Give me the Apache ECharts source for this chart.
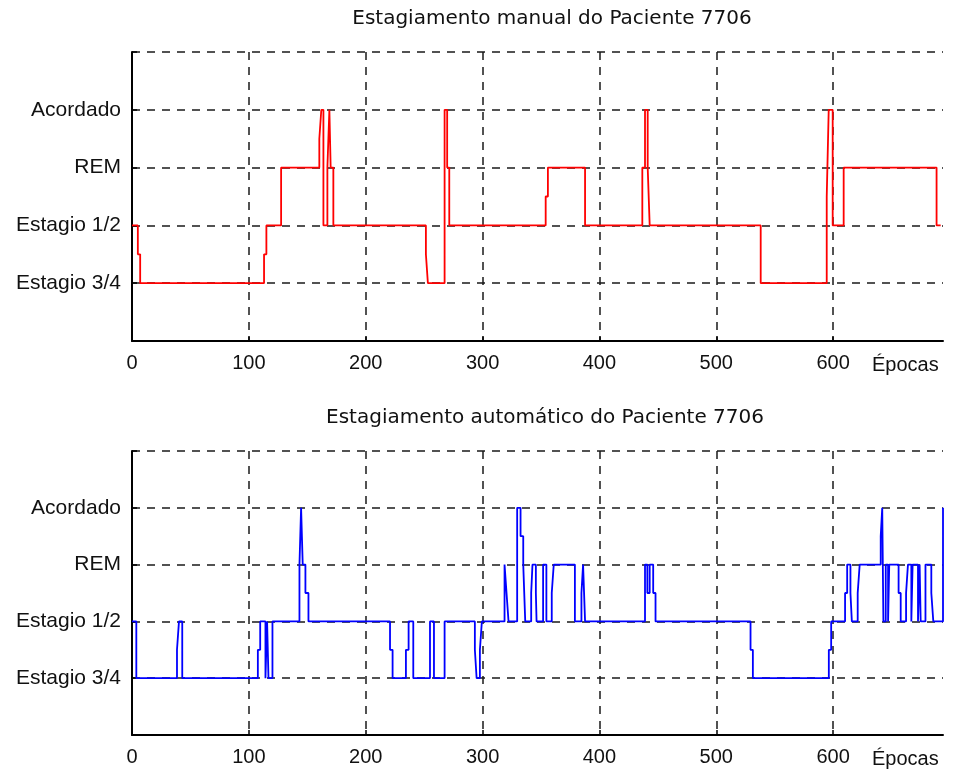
<!DOCTYPE html>
<html>
<head>
<meta charset="utf-8">
<script src="https://cdn.jsdelivr.net/npm/echarts@6/dist/echarts.min.js"></script>
<style>
html,body{margin:0;padding:0;background:#fff;}
#chart{width:955px;height:769px;}
</style>
</head>
<body>
<div id="chart"></div>
<script>
// ---- data ----
const titleManual = 'Estagiamento manual do Paciente 7706';
const titleAuto = 'Estagiamento automático do Paciente 7706';
const xAxisName = 'Épocas';
const stageLabels = {1: 'Estagio 3/4', 2: 'Estagio 1/2', 3: 'REM', 4: 'Acordado'};
const xMax = 694;

// transition points: [epoch, stage]  (stage holds until next point)
const manualEpochs = [0,5,7,113,115,127.6,160.3,162,163.8,167.2,168.9,170,172.3,251.5,253.2,267.5,269.7,271.5,354,355.9,387.7,436.7,439,441.3,443,538,594.5,596.2,599.6,609,688.5,692];
const manualStages = [2,1.5,1,1.5,2,3,3.5,4,2,3,4,3,2,1.5,1,4,3,2,2.5,3,2,3,4,3,2,1,2.5,4,2,3,2,2];

const autoEpochs = [0,3.7,38.5,40.2,43,107.7,109.7,114.2,115.6,116.8,120.2,143.3,144.7,146.1,148.4,151,220.8,223,234.4,236.7,240.7,255,258.4,267.5,293.4,294.9,297.7,299.4,318.8,320.5,322.2,329.6,332.5,334.8,336.5,341.6,342.7,345.6,346.2,351.8,354.6,359.2,360.9,379,384.6,386,387.7,439,441,443,446,448,529.3,531.3,596.3,598.3,610.2,612,614.8,616,621,622.7,640.7,642,643,645,647,648,656,657.8,662.4,664,666.9,668,672.6,674,674.9,679,684,685.7,694];
const autoStages = [2,1,1.5,2,1,1.5,2,1,2,1,2,3,4,3,2.5,2,1.5,1,1.5,2,1,2,1,2,1.5,1,1.5,2,3,2.5,2,4,3.5,3,2,2.5,3,2.5,2,3,2,2.5,3,2,2.5,3,2,3,2.5,3,2.5,2,1.5,1,1.5,2,2.5,3,2.5,2,2.5,3,3.5,4,2,3,2,3,2.5,2,2.5,3,2,3,2,3,2,3,2.5,2,4];

function pairs(xs, ys){ return xs.map((x,i)=>[x, ys[i]]); }

const dashStyle = {color:'#1a1a1a', type:[8,7], width:1.5};
const gridStyle = {show:true, showMaxLine:false, showMinLine:false, lineStyle:dashStyle};
const gridStyleY = {show:true, showMinLine:false, lineStyle:dashStyle};
const axisFont = {fontFamily:'Liberation Sans, Arial, sans-serif', color:'#111'};

function xAxisDef(gridIndex){
  return {
    type:'value', gridIndex, min:0, max:xMax, interval:100,
    axisLine:{show:true, onZero:false, lineStyle:{color:'#000', width:2}},
    axisTick:{show:true, inside:true, length:5, lineStyle:{color:'#000', width:1.5}},
    splitLine: gridStyle,
    axisLabel:{show:true, margin:12, fontSize:20, ...axisFont, showMaxLabel:false,
      formatter: v => (v % 100 === 0 ? String(v) : '')},
    name: xAxisName, nameLocation:'end', nameGap:-71,
    nameTextStyle:{fontSize:20, ...axisFont, verticalAlign:'top', align:'left', padding:[14,0,0,0]}
  };
}
function yAxisDef(gridIndex){
  return {
    type:'value', gridIndex, min:0, max:5, interval:1,
    axisLine:{show:true, lineStyle:{color:'#000', width:2}},
    axisTick:{show:true, inside:true, length:5, lineStyle:{color:'#000', width:1.5}},
    splitLine: gridStyleY,
    axisLabel:{show:true, margin:11, fontSize:21, ...axisFont,
      formatter: v => stageLabels[v] || ''}
  };
}

const titleFont = {fontSize:20, fontWeight:'normal', fontFamily:'DejaVu Sans, sans-serif', color:'#111'};
const option = {
  animation:false,
  backgroundColor:'#fff',
  title:[
    {text:titleManual, left:547, top:4, textAlign:'center', textStyle:titleFont},
    {text:titleAuto, left:540, top:403, textAlign:'center', textStyle:titleFont}
  ],
  grid:[
    {left:132, top:52, width:811, height:289, containLabel:false},
    {left:132, top:451, width:811, height:288, containLabel:false}
  ],
  xAxis:[xAxisDef(0), xAxisDef(1)],
  yAxis:[yAxisDef(0), yAxisDef(1)],
  series:[
    {type:'line', xAxisIndex:0, yAxisIndex:0, step:'end', showSymbol:false, symbol:'none',
     data: pairs(manualEpochs, manualStages), lineStyle:{color:'#ff0000', width:1.8}},
    {type:'line', xAxisIndex:1, yAxisIndex:1, step:'end', showSymbol:false, symbol:'none',
     data: pairs(autoEpochs, autoStages), lineStyle:{color:'#0000ff', width:1.8}}
  ]
};

const chart = echarts.init(document.getElementById('chart'), null, {renderer:'canvas'});
chart.setOption(option);
</script>
</body>
</html>
